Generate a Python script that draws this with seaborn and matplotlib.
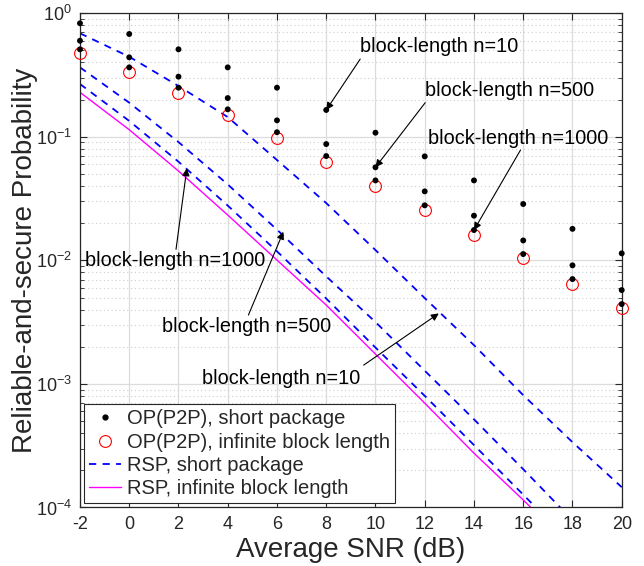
import numpy as np
import pandas as pd
import matplotlib
matplotlib.use("Agg")
import matplotlib.pyplot as plt
from matplotlib.lines import Line2D
from matplotlib.ticker import LogLocator, NullFormatter
import seaborn as sns

# SNR grid (dB)
snr = [-2, 0, 2, 4, 6, 8, 10, 12, 14, 16, 18, 20]

# OP(P2P) short package, three block lengths
op_n10 = [0.830, 0.680, 0.511, 0.365, 0.250, 0.165, 0.108, 0.0695, 0.0444, 0.0286, 0.0180, 0.0114]
op_n500 = [0.600, 0.440, 0.307, 0.206, 0.136, 0.0874, 0.0567, 0.0362, 0.0230, 0.0145, 0.00912, 0.00575]
op_n1000 = [0.511, 0.365, 0.250, 0.167, 0.109, 0.0699, 0.0444, 0.0279, 0.0176, 0.01125, 0.00706, 0.00443]
# OP(P2P) infinite block length
op_inf = [0.474, 0.335, 0.225, 0.150, 0.0972, 0.0622, 0.0400, 0.0255, 0.0161, 0.01038, 0.00647, 0.00409]

# RSP short package
rsp_n10 = [0.689, 0.445, 0.258, 0.1446, 0.0649, 0.0291, 0.01212, 0.00495, 0.00206, 8.11e-4, 3.38e-4, 1.46e-4]
rsp_n500 = [0.365, 0.189, 0.0907, 0.0412, 0.01773, 0.00742, 0.00317, 0.00128, 5.17e-4, 2.04e-4, 7.9e-5, 3.2e-5]
rsp_n1000 = [0.2677, 0.1345, 0.0629, 0.02778, 0.01183, 0.00491, 0.00197, 8.01e-4, 3.2e-4, 1.27e-4, 5.0e-5, 2.0e-5]
# RSP infinite block length
rsp_inf = [0.2293, 0.1142, 0.0529, 0.02327, 0.01006, 0.00435, 0.001743, 6.99e-4, 2.75e-4, 1.15e-4, 4.7e-5, 1.9e-5]

sns.set_style("ticks")
plt.rcParams['font.family'] = ['Liberation Sans', 'DejaVu Sans']
plt.rcParams['mathtext.fontset'] = 'custom'
plt.rcParams['mathtext.rm'] = 'Liberation Sans'
plt.rcParams['axes.unicode_minus'] = False

fig = plt.figure(figsize=(6.44, 5.66), dpi=100)
ax = fig.add_axes([0.1242, 0.1034, 0.8412, 0.8731])

ax.set_yscale('log')

# RSP curves
for vals in [rsp_n10, rsp_n500, rsp_n1000]:
    sns.lineplot(x=snr, y=vals, color='#0000ff', linestyle=(0, (4, 3.5)), linewidth=1.3, ax=ax)
sns.lineplot(x=snr, y=rsp_inf, color='#ff00ff', linestyle='-', linewidth=1.0, ax=ax)

# OP points
op_short = pd.DataFrame({
    'snr': snr * 3,
    'op': op_n10 + op_n500 + op_n1000,
})
ax.plot(snr, op_inf, linestyle='none', marker='o', markersize=8.5, markerfacecolor='none',
        markeredgecolor='#ff0000', markeredgewidth=0.8, clip_on=False, zorder=4)
sns.scatterplot(data=op_short, x='snr', y='op', color='black', s=18, edgecolor='none',
                ax=ax, zorder=5, clip_on=False)

ax.set_xlim(-2, 20)
ax.set_ylim(1e-4, 1)
ax.set_xticks(snr)
ax.yaxis.set_minor_locator(LogLocator(base=10, subs=np.arange(2, 10)))
ax.yaxis.set_minor_formatter(NullFormatter())

ax.grid(True, which='major', color='#dcdcdc', linewidth=0.9, linestyle='-')
ax.grid(True, which='minor', axis='y', color='#cfcfcf', linewidth=0.8, linestyle=(0, (1, 2.5)))
ax.set_axisbelow(True)

ax.tick_params(which='both', direction='in', top=True, right=True, labelsize=13, colors='#262626')
ax.tick_params(which='major', length=5, width=0.8, pad=6)
ax.tick_params(which='minor', length=3, width=0.6)
for sp in ax.spines.values():
    sp.set_color('#262626')
    sp.set_linewidth(0.9)

ax.set_xlabel('Average SNR (dB)', fontsize=20, color='#262626', labelpad=3)
ax.set_ylabel('Reliable-and-secure Probability', fontsize=20, color='#262626', labelpad=-2)

# annotations
arrow = dict(arrowstyle='-|>', color='black', lw=0.8, mutation_scale=11, shrinkA=0, shrinkB=0)
notes = [
    ('block-length n=10', (8, 0.165), (9.38, 0.537), (9.38, 0.426)),
    ('block-length n=500', (10, 0.0567), (12.0, 0.239), (12.02, 0.189)),
    ('block-length n=1000', (14, 0.0176), (12.15, 0.0972), (15.89, 0.0782)),
    ('block-length n=1000', (2.34, 0.0556), (-1.8, 0.01006), (1.90, 0.01228)),
    ('block-length n=500', (6.26, 0.01705), (1.32, 0.0029), (4.84, 0.00361)),
    ('block-length n=10', (12.57, 0.00372), (2.95, 0.00111), (9.52, 0.00142)),
]
for txt, tip, pos, tail in notes:
    ax.annotate('', xy=tip, xytext=tail, arrowprops=arrow, zorder=6)
    ax.text(pos[0], pos[1], txt, fontsize=14.3, ha='left', va='center', color='black', zorder=6)

handles = [
    Line2D([], [], linestyle='none', marker='o', markersize=3.5, color='black'),
    Line2D([], [], linestyle='none', marker='o', markersize=8.5, markerfacecolor='none',
           markeredgecolor='#ff0000', markeredgewidth=0.8),
    Line2D([], [], color='#0000ff', linestyle=(0, (4, 3.5)), linewidth=1.3),
    Line2D([], [], color='#ff00ff', linewidth=1.0),
]
labels = ['OP(P2P), short package', 'OP(P2P), infinite block length',
          'RSP, short package', 'RSP, infinite block length']
leg = ax.legend(handles, labels, loc='lower left', fontsize=14.5, fancybox=False, framealpha=1,
                edgecolor='#262626', borderaxespad=0.2, handlelength=1.6, handletextpad=0.3,
                labelspacing=0.22, borderpad=0.25)
leg.get_frame().set_linewidth(0.8)
leg.set_zorder(7)

fig.savefig('out.png', dpi=100)
